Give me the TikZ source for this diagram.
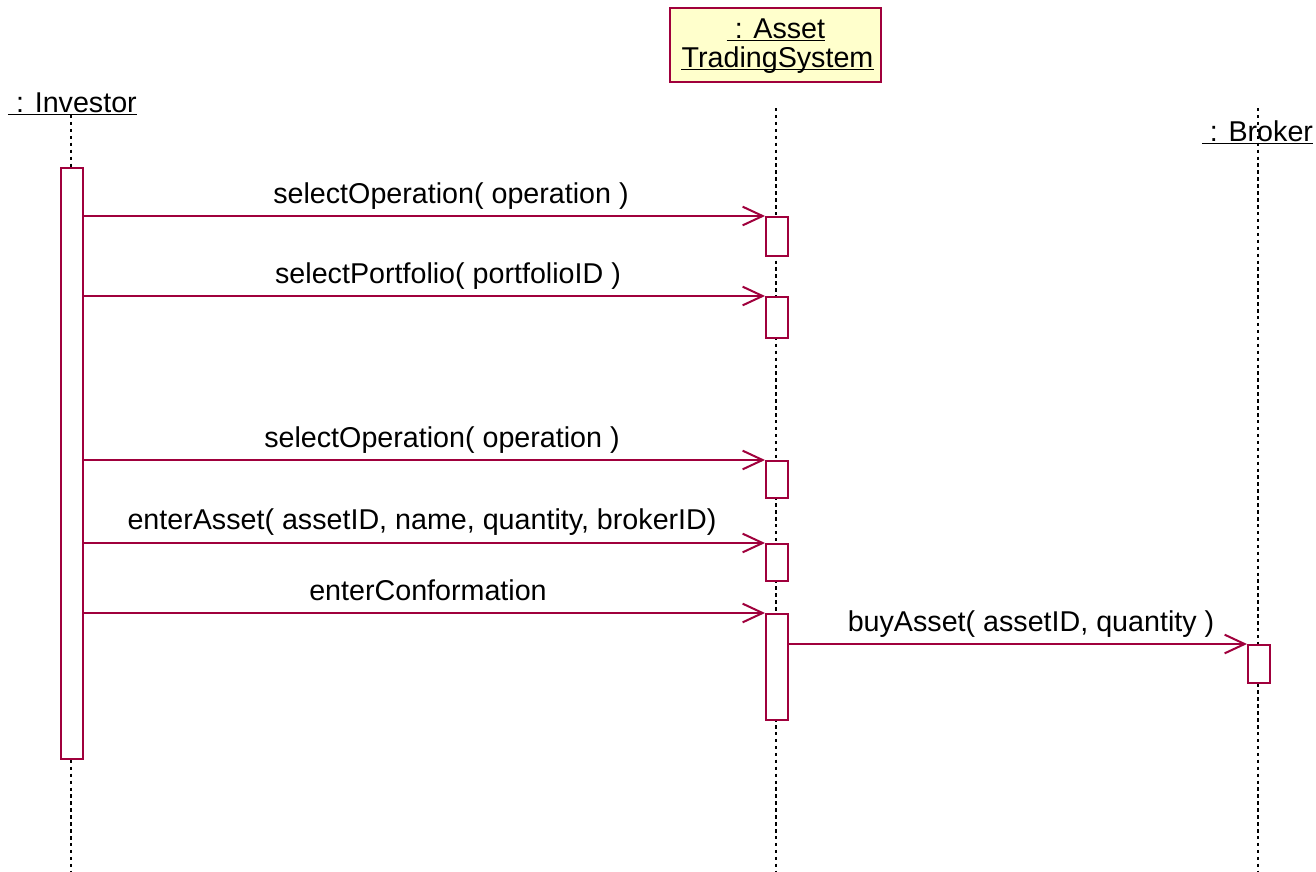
\documentclass[tikz,border=0pt]{standalone}
\usepackage{fontspec}
\setmainfont{Liberation Sans}
\usetikzlibrary{arrows.meta}
\definecolor{wine}{RGB}{160,0,60}
\definecolor{paper}{RGB}{255,255,204}
\begin{document}
\begin{tikzpicture}[x=0.75pt,y=-0.75pt,
  txt/.style={font=\fontsize{21.5}{25}\selectfont, inner sep=0pt, anchor=base},
  act/.style={draw=wine, fill=white, line width=1.5pt, minimum width=16.5pt, inner sep=0pt},
  msg/.style={draw=wine, line width=1.5pt, -{Straight Barb[length=15pt,width=14pt]}},
  life/.style={line width=1.8pt, dash pattern=on 2.6pt off 2.6pt},
  uline/.style={line width=1.2pt},
  objbox/.style={draw=wine, fill=paper, line width=1.5pt, minimum width=158.25pt, minimum height=55.5pt, inner sep=0pt}]
\useasboundingbox (0,0) rectangle (1316,871);

% object heads
\node[objbox] (sys) at (775.5,45) {};
\node[txt] (sysA) at (776,38) {\ : Asset};
\node[txt] (sysB) at (777.5,67) {TradingSystem};
\node[txt] (inv) at (72.5,112) {\ : Investor};
\node[txt] (brk) at (1257.5,141) {\ : Broker};
\foreach \n in {sysA,sysB,inv,brk}
  \draw[uline] ([yshift=-1.8pt]\n.base west) -- ([yshift=-1.8pt]\n.base east);

% lifelines
\coordinate (invTop) at (71,115);
\coordinate (invEnd) at (71,871);
\coordinate (sysTop) at (776,108);
\coordinate (sysEnd) at (776,871);
\coordinate (brkTop) at (1258,108);
\coordinate (brkEnd) at (1258,871);
\draw[life] (invTop) -- (invEnd);
\draw[life] (sysTop) -- (sysEnd);
\draw[life] (brkTop) -- (brkEnd);

% activations
\node[act, minimum height=443.25pt] (ia) at (71.5,463.5) {};
\node[act, minimum height=29.25pt] (a1) at (777,236.5) {};
\node[act, minimum height=30.75pt] (a2) at (777,317.5) {};
\node[act, minimum height=27.75pt] (a3) at (777,479.5) {};
\node[act, minimum height=27.75pt] (a4) at (777,562.5) {};
\node[act, minimum height=79.5pt] (a5) at (777,667) {};
\node[act, minimum height=28.5pt] (b1) at (1259,664) {};

% messages
\draw[msg] (ia.east |- a1.north west) -- (a1.north west);
\draw[msg] (ia.east |- a2.north west) -- (a2.north west);
\draw[msg] (ia.east |- a3.north west) -- (a3.north west);
\draw[msg] (ia.east |- a4.north west) -- (a4.north west);
\draw[msg] (ia.east |- a5.north west) -- (a5.north west);
\draw[msg] (a5.east |- b1.north west) -- (b1.north west);

% message labels
\node[txt] (m1) at (451,203) {selectOperation( operation )};
\node[txt] (m2) at (448,283) {selectPortfolio( portfolioID )};
\node[txt] (m3) at (442,447) {selectOperation( operation )};
\node[txt] (m4) at (422,529) {enterAsset( assetID, name, quantity, brokerID)};
\node[txt] (m5) at (428,600) {enterConformation};
\node[txt] (m6) at (1031,631) {buyAsset( assetID, quantity )};
\end{tikzpicture}
\end{document}
